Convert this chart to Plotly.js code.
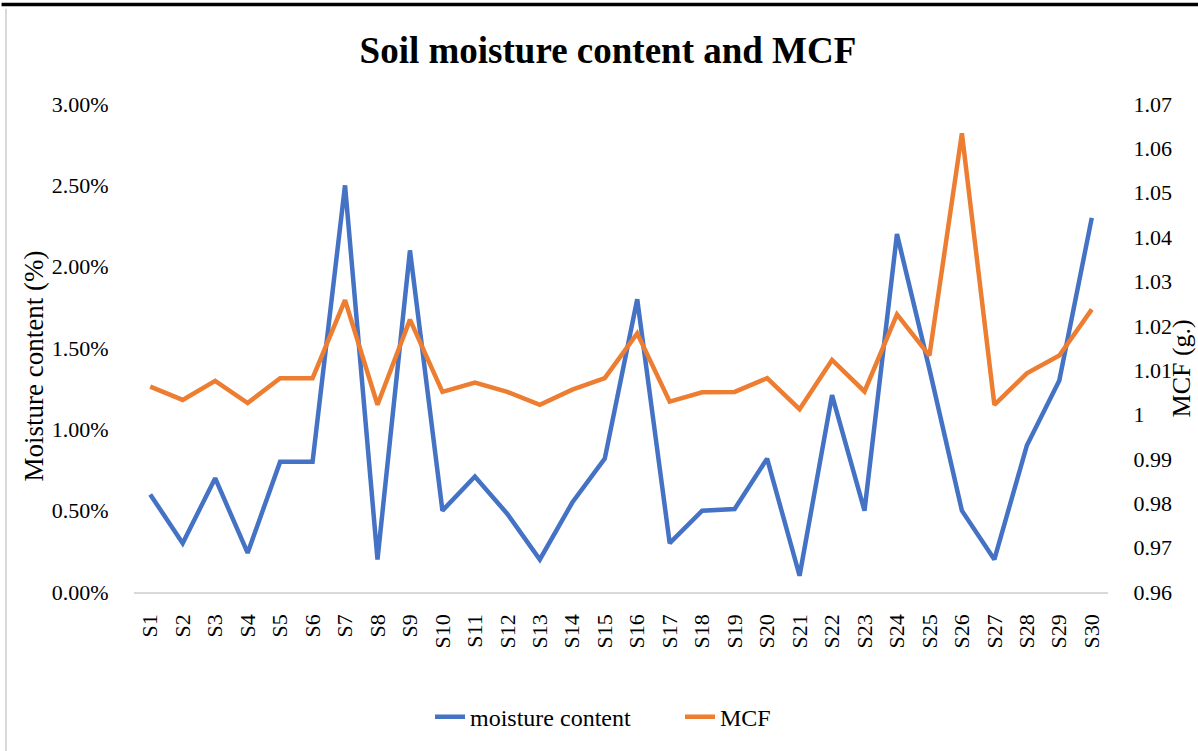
<!DOCTYPE html>
<html>
<head>
<meta charset="utf-8">
<script src="https://cdn.plot.ly/plotly-3.0.1.min.js"></script>
<style>html,body{margin:0;padding:0;background:#fff;}#chart{width:1198px;height:751px;}</style>
</head>
<body>
<div id="chart"></div>
<script>
const samples = ["S1","S2","S3","S4","S5","S6","S7","S8","S9","S10","S11","S12","S13","S14","S15","S16","S17","S18","S19","S20","S21","S22","S23","S24","S25","S26","S27","S28","S29","S30"];
const moistureContent = [0.0060,0.0030,0.0070,0.0024,0.0080,0.0080,0.0250,0.0020,0.0210,0.0050,0.0071,0.0048,0.0020,0.0055,0.0082,0.0180,0.0030,0.0050,0.0051,0.0082,0.0010,0.0121,0.0050,0.0220,0.0137,0.0050,0.0020,0.0090,0.0130,0.0230];
const mcf = [1.0063,1.0033,1.0076,1.0026,1.0082,1.0082,1.0258,1.0022,1.0214,1.0051,1.0072,1.0051,1.0022,1.0056,1.0082,1.0183,1.0029,1.0050,1.0051,1.0082,1.0012,1.0123,1.0052,1.0226,1.0133,1.0634,1.0022,1.0093,1.0133,1.0237];
const leftTicks = [0,0.005,0.01,0.015,0.02,0.025,0.03];
const rightTicks = [0.96,0.97,0.98,0.99,1,1.01,1.02,1.03,1.04,1.05,1.06,1.07];
const leftAxisTitle = 'Moisture content (%)';
const rightAxisTitle = 'MCF (g.)';
const chartTitle = 'Soil moisture content and MCF';

const serif = "'Liberation Serif','Times New Roman',serif";
const traces = [
  {x: samples, y: moistureContent, type: 'scatter', mode: 'lines', name: 'moisture content',
   line: {color: '#4472C4', width: 4.5}, yaxis: 'y'},
  {x: samples, y: mcf, type: 'scatter', mode: 'lines', name: 'MCF',
   line: {color: '#ED7D31', width: 4.5}, yaxis: 'y2'}
];
const layout = {
  width: 1198, height: 751,
  paper_bgcolor: '#ffffff', plot_bgcolor: '#ffffff',
  margin: {l: 134, r: 90, t: 104, b: 158},
  font: {family: serif, color: '#000000', size: 22},
  title: {text: '<b>' + chartTitle + '</b>', font: {family: serif, size: 37, color: '#000000'},
          x: 608 / 1198, xanchor: 'center', y: 0.934, yanchor: 'middle'},
  showlegend: true,
  legend: {orientation: 'h', x: (430 - 134) / 974, xanchor: 'left', y: -0.254, yanchor: 'middle',
           font: {family: serif, size: 24, color: '#000000'}, entrywidth: 205, tracegroupgap: 0},
  xaxis: {type: 'category', range: [-0.5, 29.5], showgrid: false, zeroline: false,
          showline: true, linecolor: '#D9D9D9', linewidth: 1.5,
          ticks: 'outside', ticklen: 12, tickcolor: 'rgba(0,0,0,0)', tickangle: -90,
          tickfont: {family: serif, size: 22, color: '#000000'}},
  yaxis: {range: [0, 0.03], tickvals: leftTicks, tickformat: '.2%', showgrid: false, zeroline: false,
          showline: false, ticks: 'outside', ticklen: 20, tickcolor: 'rgba(0,0,0,0)',
          tickfont: {family: serif, size: 22, color: '#000000'}},
  yaxis2: {overlaying: 'y', side: 'right', range: [0.96, 1.07], tickvals: rightTicks,
           ticktext: rightTicks.map(v => v === 1 ? '1' : String(v)),
           showgrid: false, zeroline: false, showline: false,
           ticks: 'outside', ticklen: 20, tickcolor: 'rgba(0,0,0,0)',
           tickfont: {family: serif, size: 22, color: '#000000'}},
  annotations: [
    {text: leftAxisTitle, xref: 'paper', yref: 'paper', x: (34 - 134) / 974, y: (593 - 367) / 489,
     xanchor: 'center', yanchor: 'middle', textangle: -90, showarrow: false,
     font: {family: serif, size: 27, color: '#000000'}},
    {text: rightAxisTitle, xref: 'paper', yref: 'paper', x: (1181 - 134) / 974, y: (593 - 369) / 489,
     xanchor: 'center', yanchor: 'middle', textangle: -90, showarrow: false,
     font: {family: serif, size: 26, color: '#000000'}}
  ],
  shapes: [
    {type: 'rect', xref: 'paper', yref: 'paper', x0: -0.136, x1: 1.1, y0: 1.2004, y1: 1.2075,
     fillcolor: '#000000', line: {width: 0}, layer: 'above'},
    {type: 'line', xref: 'paper', yref: 'paper', x0: (6 - 134) / 974, x1: (6 - 134) / 974, y0: 1.195, y1: -0.33,
     line: {color: '#D9D9D9', width: 2}}
  ]
};
Plotly.newPlot('chart', traces, layout, {displayModeBar: false, staticPlot: true});
</script>
</body>
</html>
